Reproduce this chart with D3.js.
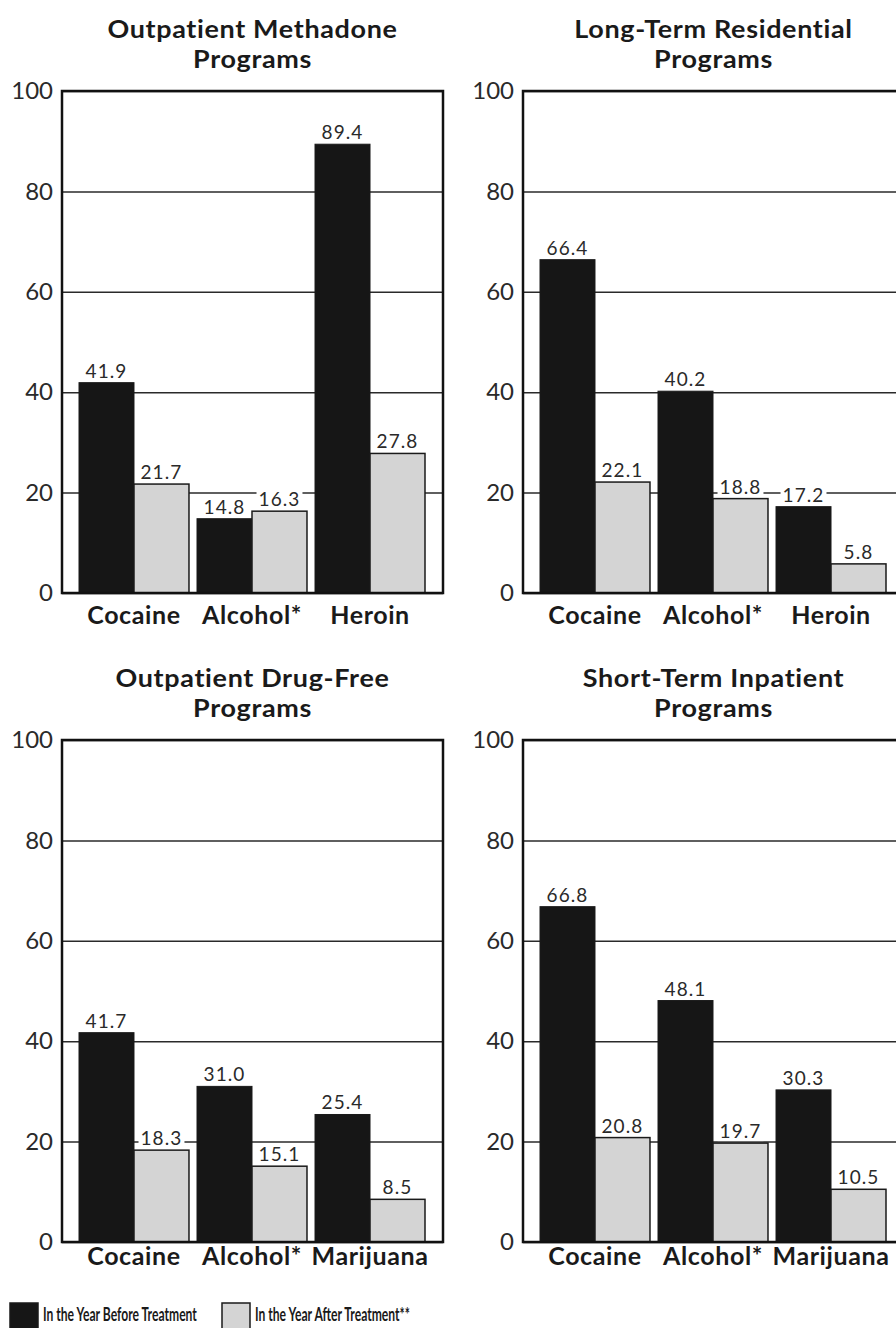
<!DOCTYPE html>
<html>
<head>
<meta charset="utf-8">
<script src="https://cdn.jsdelivr.net/npm/d3@7"></script>
<style>
  html, body { margin: 0; padding: 0; background: #fff; }
  svg { display: block; }
</style>
</head>
<body>
<svg id="chart" width="896" height="1328"></svg>
<script>
// ---- Data ----
const seriesNames = ["In the Year Before Treatment", "In the Year After Treatment**"];
const yTicks = [0, 20, 40, 60, 80, 100];

const titleMethadone = ["Outpatient Methadone", "Programs"];
const catsMethadone = ["Cocaine", "Alcohol*", "Heroin"];
const beforeMethadone = [41.9, 14.8, 89.4];
const afterMethadone = [21.7, 16.3, 27.8];

const titleResidential = ["Long-Term Residential", "Programs"];
const catsResidential = ["Cocaine", "Alcohol*", "Heroin"];
const beforeResidential = [66.4, 40.2, 17.2];
const afterResidential = [22.1, 18.8, 5.8];

const titleDrugFree = ["Outpatient Drug-Free", "Programs"];
const catsDrugFree = ["Cocaine", "Alcohol*", "Marijuana"];
const beforeDrugFree = [41.7, 31.0, 25.4];
const afterDrugFree = [18.3, 15.1, 8.5];

const titleInpatient = ["Short-Term Inpatient", "Programs"];
const catsInpatient = ["Cocaine", "Alcohol*", "Marijuana"];
const beforeInpatient = [66.8, 48.1, 30.3];
const afterInpatient = [20.8, 19.7, 10.5];

// ---- Layout / style ----
const FONT = "Lato, 'Open Sans', 'DejaVu Sans', sans-serif";
const colors = ["#161616", "#d4d4d4"];
const plotW = 381;
const panels = [
  { title: titleMethadone, cats: catsMethadone, vals: [beforeMethadone, afterMethadone], x0: 62, top: 91, bottom: 593, t1: 38, t2: 68, xl: 624 },
  { title: titleResidential, cats: catsResidential, vals: [beforeResidential, afterResidential], x0: 523, top: 91, bottom: 593, t1: 38, t2: 68, xl: 624 },
  { title: titleDrugFree, cats: catsDrugFree, vals: [beforeDrugFree, afterDrugFree], x0: 62, top: 740, bottom: 1242, t1: 687, t2: 717, xl: 1265 },
  { title: titleInpatient, cats: catsInpatient, vals: [beforeInpatient, afterInpatient], x0: 523, top: 740, bottom: 1242, t1: 687, t2: 717, xl: 1265 }
];

const svg = d3.select("#chart");

panels.forEach(p => {
  const g = svg.append("g");
  const y = d3.scaleLinear().domain([0, 100]).range([p.bottom, p.top]);
  const x = d3.scaleBand().domain(p.cats).range([p.x0 + 17, p.x0 + plotW - 18]).paddingInner(0.068).paddingOuter(0);
  const xs = d3.scaleBand().domain([0, 1]).range([0, x.bandwidth()]).padding(0);
  const cx = p.x0 + plotW / 2;

  // Title (slightly widened to match the original typeface)
  [p.t1, p.t2].forEach((ty, k) => {
    g.append("text").attr("x", 0).attr("y", 0).attr("text-anchor", "middle")
      .attr("transform", `translate(${cx},${ty}) scale(1.1,1)`)
      .attr("font-family", FONT).attr("font-weight", 700).attr("font-size", 24.5)
      .attr("letter-spacing", 0.6).attr("fill", "#1a1a1a")
      .text(p.title[k]);
  });

  // Axis with gridlines
  const ax = g.append("g").attr("transform", `translate(${p.x0},0)`)
    .call(d3.axisLeft(y).tickValues(yTicks).tickSize(-plotW).tickPadding(9).tickFormat(d3.format("d")));
  ax.select(".domain").remove();
  ax.selectAll(".tick line").attr("stroke", "#2a2a2a").attr("stroke-width", 1.5);
  ax.selectAll(".tick text").attr("font-family", FONT).attr("font-size", 24).attr("fill", "#2a2a2a");

  // Bars
  const groups = g.selectAll("g.grp").data(p.cats).enter().append("g")
    .attr("transform", d => `translate(${x(d)},0)`);
  groups.each(function(c, i) {
    const gg = d3.select(this);
    [0, 1].forEach(s => {
      const v = p.vals[s][i];
      gg.append("rect")
        .attr("x", xs(s)).attr("y", y(v))
        .attr("width", xs.bandwidth()).attr("height", y(0) - y(v))
        .attr("fill", colors[s]).attr("stroke", "#1a1a1a").attr("stroke-width", s === 1 ? 1.5 : 1);
    });
  });
  groups.each(function(c, i) {
    const gg = d3.select(this);
    [0, 1].forEach(s => {
      const v = p.vals[s][i];
      const lx = xs(s) + xs.bandwidth() / 2;
      const ly = y(v) - 5;
      const t = gg.append("text").attr("x", lx).attr("y", ly).attr("text-anchor", "middle")
        .attr("font-family", FONT).attr("font-size", 19).attr("letter-spacing", 1.1).attr("fill", "#2a2a2a")
        .text(d3.format(".1f")(v));
      const bb = t.node().getBBox();
      gg.insert("rect", () => t.node())
        .attr("x", bb.x - 2).attr("y", bb.y + 3).attr("width", bb.width + 4).attr("height", bb.height - 4)
        .attr("fill", "#fff");
    });
  });

  // Frame
  g.append("rect").attr("x", p.x0).attr("y", p.top).attr("width", plotW).attr("height", p.bottom - p.top)
    .attr("fill", "none").attr("stroke", "#111").attr("stroke-width", 2.5);

  // Category labels
  g.selectAll("text.cat").data(p.cats).enter().append("text")
    .attr("x", d => x(d) + x.bandwidth() / 2).attr("y", p.xl).attr("text-anchor", "middle")
    .attr("font-family", FONT).attr("font-weight", 700).attr("font-size", 25).attr("letter-spacing", 0.6)
    .attr("fill", "#1a1a1a")
    .text(d => d);
});

// Legend
const legend = [
  { sx: 10, tx: 43, tw: 154 },
  { sx: 222, tx: 255, tw: 155 }
];
legend.forEach((l, i) => {
  svg.append("rect").attr("x", l.sx).attr("y", 1303).attr("width", 28).attr("height", 30)
    .attr("fill", colors[i]).attr("stroke", "#1a1a1a").attr("stroke-width", 1.5);
  const t = svg.append("text").attr("x", 0).attr("y", 0)
    .attr("font-family", FONT).attr("font-weight", 700).attr("font-size", 19.5).attr("fill", "#1a1a1a")
    .text(seriesNames[i]);
  const len = t.node().getComputedTextLength();
  t.attr("transform", `translate(${l.tx},1321) scale(${l.tw / len},1)`);
});
</script>
</body>
</html>
